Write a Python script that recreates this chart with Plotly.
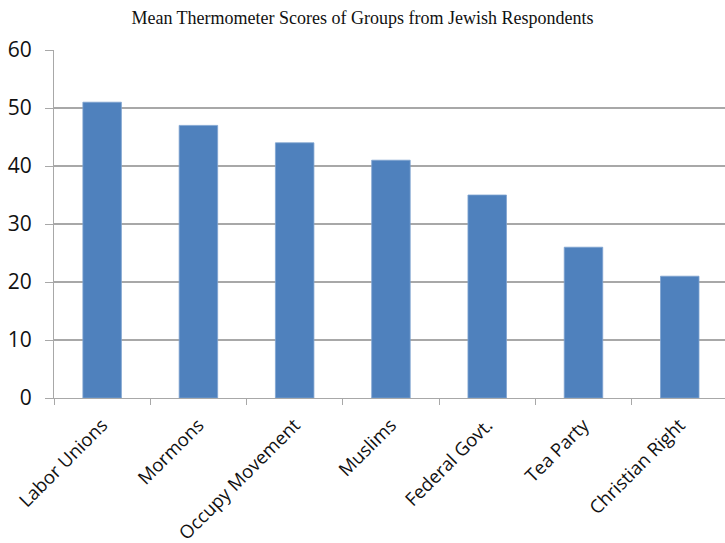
import plotly.graph_objects as go

# Mean feeling-thermometer scores by group
groups = ["Labor Unions", "Mormons", "Occupy Movement", "Muslims",
          "Federal Govt.", "Tea Party", "Christian Right"]
scores = [51, 47, 44, 41, 35, 26, 21]
y_ticks = [0, 10, 20, 30, 40, 50, 60]

fig = go.Figure(
    go.Bar(
        x=groups,
        y=scores,
        width=0.4,
        marker=dict(color="#4F81BD", line=dict(color="#7FA3D0", width=0.8)),
    )
)

fig.update_layout(
    width=725,
    height=543,
    margin=dict(l=54, r=0, t=50, b=145),
    paper_bgcolor="white",
    plot_bgcolor="white",
    showlegend=False,
    title=dict(
        text="Mean Thermometer Scores of Groups from Jewish Respondents",
        x=0.5,
        xanchor="center",
        y=1 - 18 / 543,
        yanchor="middle",
        font=dict(family="Liberation Serif", size=18, color="#111111"),
    ),
    bargap=0.6,
)

fig.update_yaxes(
    range=[0, 60],
    tickvals=y_ticks,
    showgrid=True,
    gridcolor="#A8A8A8",
    gridwidth=1.5,
    zeroline=False,
    showline=True,
    linecolor="#A8A8A8",
    linewidth=1.2,
    ticks="outside",
    ticklen=8,
    tickcolor="#A8A8A8",
    ticklabelstandoff=9,
    tickfont=dict(family="Open Sans", size=21, color="#111111"),
)

fig.update_xaxes(
    type="category",
    range=[-0.5, 6.47],
    tickangle=-45,
    ticks="outside",
    tickson="boundaries",
    ticklen=6,
    tickcolor="#A8A8A8",
    ticklabelstandoff=8,
    showline=True,
    linecolor="#A8A8A8",
    linewidth=1.2,
    showgrid=False,
    tickfont=dict(family="Open Sans", size=18.5, color="#111111"),
)

fig.write_html("out.html")
